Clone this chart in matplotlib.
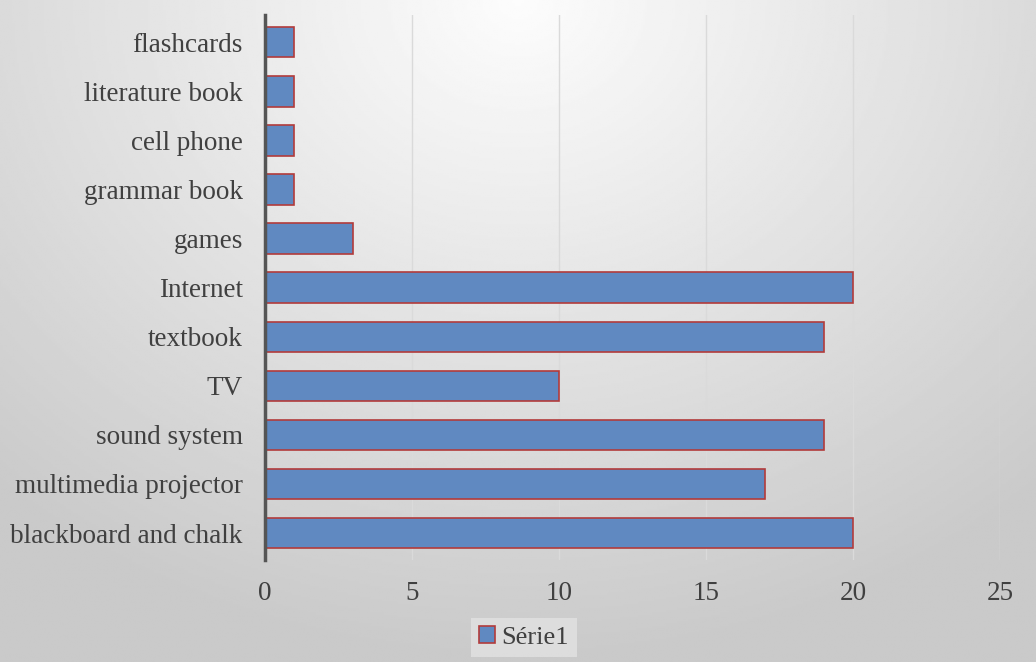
import numpy as np
import matplotlib.pyplot as plt
from matplotlib.patches import Patch

plt.rcParams['font.family'] = ['Liberation Serif', 'DejaVu Serif']

categories = ["blackboard and chalk", "multimedia projector", "sound system", "TV",
              "textbook", "Internet", "games", "grammar book", "cell phone",
              "literature book", "flashcards"]
values = [20, 17, 19, 10, 19, 20, 3, 1, 1, 1, 1]
xticks = [0, 5, 10, 15, 20, 25]

fig = plt.figure(figsize=(10.36, 6.62), dpi=100)

# radial gray background like the office chart style
bg = fig.add_axes([0, 0, 1, 1], zorder=-10)
yy, xx = np.mgrid[0:1:300j, 0:1:460j]
r = np.sqrt(((xx - 0.5) / 0.75) ** 2 + (yy / 1.0) ** 2)
shade = 0.99 - 0.2 * np.clip(r, 0, 1)
bg.imshow(shade, cmap='gray', vmin=0, vmax=1, aspect='auto',
          extent=[0, 1, 0, 1], origin='upper')
bg.axis('off')

ax = fig.add_axes([0.2558, 0.154, 0.7095, 0.823])
ax.patch.set_alpha(0)
ypos = np.arange(len(categories))
ax.barh(ypos, values, height=0.62, color='#6089c1', edgecolor='#b23b3b',
        linewidth=1.2, zorder=3)

ax.set_xlim(0, 25)
ax.set_ylim(-0.55, len(categories) - 0.45)
ax.set_xticks(xticks)
ax.set_yticks(ypos)
ax.set_yticklabels(categories)
ax.tick_params(axis='both', length=0, labelsize=19.5, colors='#404040')
ax.tick_params(axis='y', pad=16)
ax.tick_params(axis='x', pad=15)
ax.grid(axis='x', color='#dadada', linewidth=1, zorder=0)
for s in ['top', 'right', 'bottom']:
    ax.spines[s].set_visible(False)
ax.spines['left'].set_color('#555555')
ax.spines['left'].set_linewidth(2.5)
ax.spines['left'].set_zorder(4)

handle = Patch(facecolor='#6089c1', edgecolor='#b23b3b', linewidth=1.2)
leg = fig.legend([handle], ['Série1'], loc='lower center',
                 bbox_to_anchor=(0.506, -0.012), frameon=True, fontsize=19,
                 handlelength=0.6, handleheight=0.6, handletextpad=0.25,
                 borderpad=0.3, fancybox=False)
leg.get_frame().set_facecolor('#e2e2e2')
leg.get_frame().set_edgecolor('none')
for t in leg.get_texts():
    t.set_color('#404040')

fig.savefig('out.png', dpi=100)
